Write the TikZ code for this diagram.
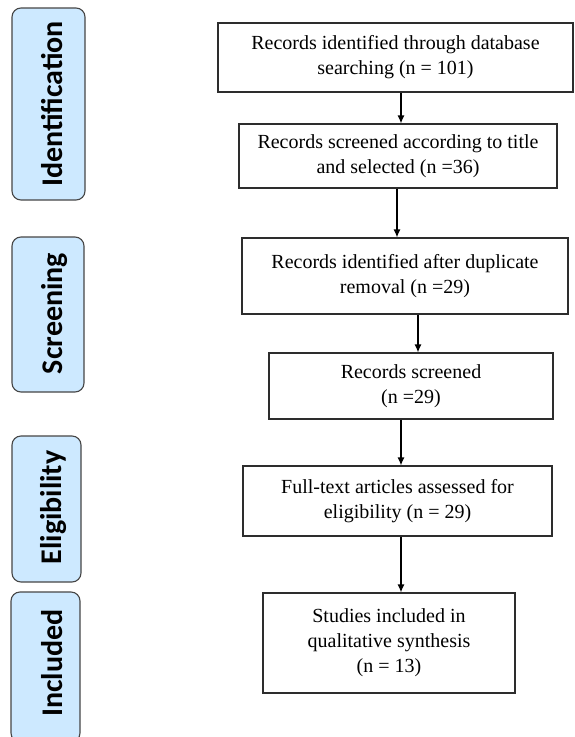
\documentclass[tikz,border=0pt]{standalone}
\usepackage{fontspec}
\setmainfont{Liberation Serif}
\newfontfamily\lblfont{Carlito}
\usetikzlibrary{arrows.meta}
\definecolor{lblfill}{RGB}{205,233,255}
\definecolor{lbldraw}{RGB}{70,70,70}
\definecolor{boxdraw}{RGB}{45,45,45}
\tikzset{
  flowbox/.style={draw=boxdraw, line width=1.2pt, fill=white, align=center, inner sep=0pt,
    font=\fontsize{20}{25}\selectfont},
  phasebox/.style={draw=lbldraw, line width=1.1pt, fill=lblfill, rounded corners=9pt, inner sep=0pt},
  phasetext/.style={rotate=90, anchor=base, inner sep=0pt, font=\lblfont\bfseries\fontsize{30}{30}\selectfont},
  flowarrow/.style={draw=black, line width=1.2pt, -{Latex[length=8pt,width=7pt]}}
}
\begin{document}
\begin{tikzpicture}[x=1pt,y=-1pt]
\clip (0,0) rectangle (574,737);
\fill[white] (0,0) rectangle (574,737);

% phase labels
\node[phasebox, minimum width=73pt, minimum height=192pt] (pid) at (48.5,104) {};
\node[phasetext] (tid) at (62,104) {Identification};
\node[phasebox, minimum width=72pt, minimum height=155pt] (psc) at (48,314.5) {};
\node[phasetext] (tsc) at (62,313.5) {Screening};
\node[phasebox, minimum width=69pt, minimum height=146pt] (pel) at (46.5,509) {};
\node[phasetext] (tel) at (61.5,507.5) {Eligibility};
\node[phasebox, minimum width=69pt, minimum height=150pt] (pin) at (45.5,667) {};
\node[phasetext] (tin) at (62,663) {Included};

% flow boxes
\node[flowbox, minimum width=355pt, minimum height=69pt] (b1) at (395.5,57.5)
  {Records identified through database\\searching (n = 101)};
\node[flowbox, minimum width=318pt, minimum height=64pt] (b2) at (398,156)
  {Records screened according to title\\and selected (n =36)};
\node[flowbox, minimum width=326pt, minimum height=76pt] (b3) at (405,276)
  {Records identified after duplicate\\removal (n =29)};
\node[flowbox, minimum width=284pt, minimum height=66pt] (b4) at (411,386)
  {Records screened\\(n =29)};
\node[flowbox, minimum width=309pt, minimum height=70pt] (b5) at (397.5,501)
  {Full-text articles assessed for\\eligibility (n = 29)};
\node[flowbox, minimum width=252pt, minimum height=100pt] (b6) at (389,643)
  {Studies included in\\qualitative synthesis\\(n = 13)};

% arrow columns
\coordinate (c1) at (401,0);
\coordinate (c2) at (397,0);
\coordinate (c3) at (418,0);
\coordinate (c4) at (401,0);
\coordinate (c5) at (401,0);

\draw[flowarrow] (b1.south -| c1) -- (b2.north -| c1);
\draw[flowarrow] (b2.south -| c2) -- (b3.north -| c2);
\draw[flowarrow] (b3.south -| c3) -- (b4.north -| c3);
\draw[flowarrow] (b4.south -| c4) -- (b5.north -| c4);
\draw[flowarrow] (b5.south -| c5) -- (b6.north -| c5);
\end{tikzpicture}
\end{document}
